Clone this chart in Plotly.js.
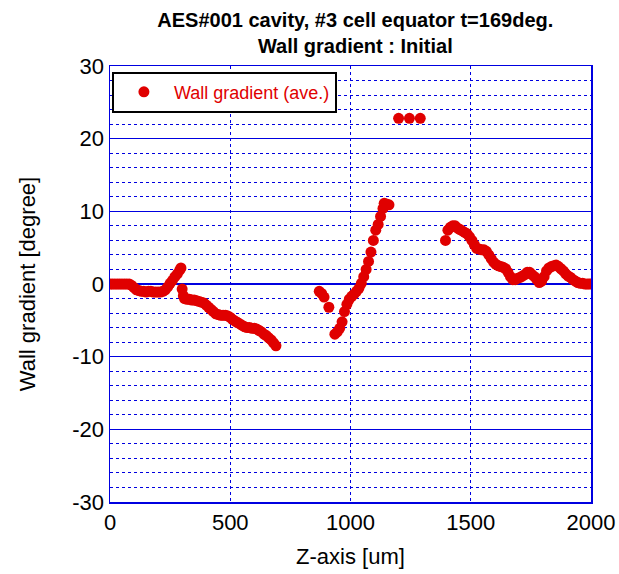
<!DOCTYPE html>
<html>
<head>
<meta charset="utf-8">
<script src="https://cdn.plot.ly/plotly-3.0.1.min.js"></script>
<style>html,body{margin:0;padding:0;background:#fff;}#chart{width:619px;height:574px;}</style>
</head>
<body>
<div id="chart"></div>
<script>
// Z positions [um]
const zSeg1 = [0,10,20,30,40,50,60,70,80,90,100,110,120,130,140,150,160,170,180,190,200,210,220,230,240,250,260,270,280,290,295];
const wSeg1 = [0,0,0,0,0,0,0,0,0,-0.2,-0.5,-0.8,-0.9,-1.0,-1.0,-1.1,-1.0,-1.0,-1.1,-1.1,-1.1,-1.1,-1.0,-0.8,-0.4,0.1,0.5,1.0,1.4,1.9,2.2];

const zSeg2 = [300,305,310,320,330,340,350,360,370,380,390,400,410,420,430,440,450,460,470,480,490,500,510,520,530,540,550,560,570,580,590,600,610,620,630,640,650,660,670,680,690];
const wSeg2 = [-0.7,-1.6,-2.0,-2.1,-2.1,-2.2,-2.2,-2.3,-2.4,-2.5,-2.6,-2.9,-3.2,-3.5,-3.8,-4.1,-4.2,-4.3,-4.3,-4.3,-4.4,-4.6,-4.9,-5.1,-5.3,-5.5,-5.7,-5.9,-6.0,-6.0,-6.1,-6.1,-6.2,-6.4,-6.6,-6.9,-7.1,-7.4,-7.7,-8.1,-8.5];

const zSeg3 = [870,880,890,910,935,945,955,965,975,985,995,1005,1015,1025,1035,1045,1055,1065,1075,1085,1095,1105,1115,1125,1135,1140,1150,1160];
const wSeg3 = [-1.0,-1.3,-1.8,-3.2,-6.9,-6.6,-6.1,-5.2,-3.8,-2.8,-2.1,-1.7,-1.4,-1.0,-0.6,0.1,1.0,2.0,3.1,4.4,6.0,7.4,8.2,9.3,10.4,11.1,11.0,10.9];

const zOut = [1200,1245,1290];
const wOut = [22.8,22.8,22.8];

const zSeg4 = [1395,1405,1415,1425,1435,1445,1455,1465,1475,1485,1495,1505,1515,1525,1535,1545,1555,1565,1575,1585,1595,1605,1615,1625,1635,1645,1655,1665,1675,1685,1695,1705,1715,1725,1735,1745,1755,1765,1775,1785,1795,1805,1815,1825,1835,1845,1855,1865,1875,1885,1895,1905,1915,1925,1935,1945,1955,1965,1975,1985,1995];
const wSeg4 = [6.0,7.4,7.8,8.0,8.0,7.7,7.5,7.3,7.1,6.9,6.5,6.0,5.4,4.9,4.8,4.7,4.7,4.5,4.0,3.5,3.0,2.7,2.5,2.4,2.3,2.1,1.6,1.0,0.6,0.6,0.8,0.9,1.1,1.3,1.6,1.6,1.3,1.0,0.6,0.2,0.4,1.0,1.8,2.2,2.4,2.5,2.6,2.4,2.1,1.8,1.4,1.1,0.9,0.6,0.4,0.2,0.1,0.1,0.0,0.0,0.0];

const xTicks = [0,500,1000,1500,2000];
const yTicks = [-30,-20,-10,0,10,20,30];

const zAll = [].concat(zSeg1, zSeg2, zSeg3, zOut, zSeg4);
const wAll = [].concat(wSeg1, wSeg2, wSeg3, wOut, wSeg4);

const red = '#e00000';
const blue = '#0000e0';
const font = 'Arial, "Liberation Sans", sans-serif';

const trace = {
  x: zAll, y: wAll,
  type: 'scatter', mode: 'markers',
  name: 'Wall gradient (ave.)',
  marker: {color: red, size: 11}
};

const layout = {
  width: 619, height: 574,
  margin: {l: 110, r: 28, t: 66, b: 72},
  paper_bgcolor: '#fff', plot_bgcolor: '#fff',
  font: {family: font, color: '#000', size: 22},
  title: {
    text: '<b>AES#001 cavity, #3 cell equator t=169deg.<br>Wall gradient : Initial</b>',
    font: {family: font, size: 20, color: '#000'},
    x: 0.574, xanchor: 'center', y: 0.953, yanchor: 'middle'
  },
  showlegend: true,
  legend: {
    x: 0.004, y: 0.987, xanchor: 'left', yanchor: 'top',
    bgcolor: '#fff', bordercolor: '#000', borderwidth: 2,
    itemwidth: 50,
    font: {family: font, size: 18, color: red}
  },
  xaxis: {
    range: [0, 2000], tickvals: xTicks, ticktext: xTicks.map(String),
    showline: true, linecolor: blue, linewidth: 1.5, mirror: true,
    showgrid: true, gridcolor: blue, gridwidth: 1, griddash: 'dot',
    zeroline: false, ticks: '', tickfont: {size: 22, family: font},
    title: {text: 'Z-axis [um]', font: {size: 22, family: font}, standoff: 14}
  },
  yaxis: {
    range: [-30, 30], tickvals: yTicks, ticktext: yTicks.map(String),
    showline: true, linecolor: blue, linewidth: 1.5, mirror: true,
    showgrid: true, gridcolor: blue, gridwidth: 1.2,
    zeroline: false, ticks: '', tickfont: {size: 22, family: font},
    minor: {dtick: 2, showgrid: true, gridcolor: blue, gridwidth: 1, griddash: 'dot', ticks: ''},
    title: {text: 'Wall gradient [degree]', font: {size: 22, family: font}, standoff: 30}
  }
};

Plotly.newPlot('chart', [trace], layout, {staticPlot: true, displayModeBar: false});
</script>
</body>
</html>
